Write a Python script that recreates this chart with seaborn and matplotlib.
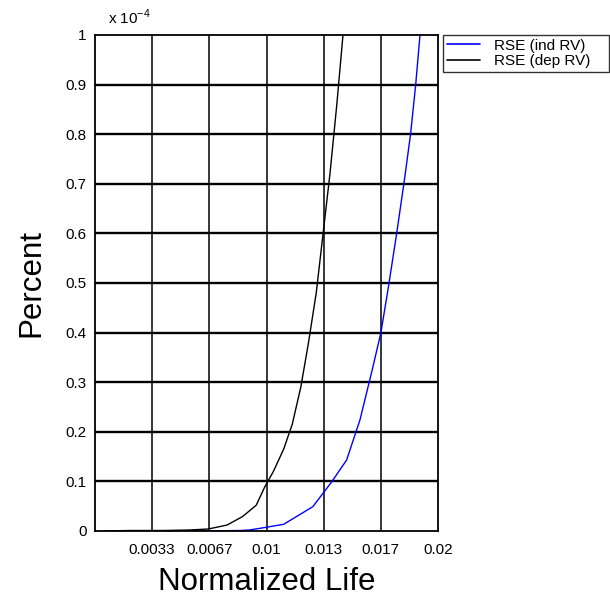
import matplotlib
matplotlib.use("Agg")
import matplotlib.pyplot as plt
import seaborn as sns
import pandas as pd

# data (y in units of 1e-4)
dep_x = [0.0005, 0.002, 0.004, 0.0055, 0.0066, 0.0077, 0.0086, 0.0094, 0.0099, 0.0104,
         0.0110, 0.0115, 0.0120, 0.01245, 0.0129, 0.0133, 0.0137, 0.0141, 0.01446, 0.0147]
dep_y = [0.0, 0.001, 0.001, 0.002, 0.004, 0.012, 0.029, 0.052, 0.089, 0.12,
         0.165, 0.215, 0.29, 0.38, 0.48, 0.60, 0.72, 0.86, 1.0, 1.08]
ind_x = [0.0005, 0.006, 0.0085, 0.0090, 0.0099, 0.0110, 0.0127, 0.0138, 0.01467, 0.01545,
         0.0162, 0.01667, 0.0171, 0.01759, 0.01805, 0.0184, 0.0187, 0.01895]
ind_y = [0.0, 0.0, 0.001, 0.002, 0.007, 0.0135, 0.049, 0.099, 0.143, 0.224,
         0.33, 0.40, 0.49, 0.60, 0.71, 0.80, 0.90, 1.0]
series_names = ["RSE (ind RV)", "RSE (dep RV)"]
series_colors = ["#0000ff", "#000000"]
x_ticks = [0.02 * k / 6 for k in range(1, 7)]
x_tick_labels = ["0.0033", "0.0067", "0.01", "0.013", "0.017", "0.02"]
y_ticks = [round(0.1 * k, 1) for k in range(11)]
y_tick_labels = ["0", "0.1", "0.2", "0.3", "0.4", "0.5", "0.6", "0.7", "0.8", "0.9", "1"]

df = pd.concat([
    pd.DataFrame({"x": ind_x, "y": ind_y, "series": series_names[0]}),
    pd.DataFrame({"x": dep_x, "y": dep_y, "series": series_names[1]}),
])

sns.set_style("white")
plt.rcParams["font.family"] = ["Liberation Sans", "DejaVu Sans"]
plt.rcParams["mathtext.fontset"] = "custom"
plt.rcParams["mathtext.rm"] = "Liberation Sans"
plt.rcParams["text.color"] = "black"
plt.rcParams["axes.labelcolor"] = "black"

fig = plt.figure(figsize=(6.10, 5.98), dpi=100)
ax = fig.add_axes([95 / 610, 1 - 531 / 598, (438 - 95) / 610, (531 - 35) / 598])

sns.lineplot(data=df, x="x", y="y", hue="series", hue_order=series_names,
             palette=series_colors, ax=ax, sort=False, estimator=None,
             linewidth=1.0, legend=True)

ax.set_xlim(0, 0.02)
ax.set_ylim(0, 1)
ax.set_xticks(x_ticks)
ax.set_xticklabels(x_tick_labels)
ax.set_yticks(y_ticks)
ax.set_yticklabels(y_tick_labels)

# grid
for yv in y_ticks[1:-1]:
    ax.axhline(yv, color="black", lw=1.7, zorder=0.5)
for xv in x_ticks[:-1]:
    ax.axvline(xv, color="black", lw=1.1, zorder=0.5)

ax.tick_params(axis="both", direction="in", length=4, width=1.0, labelsize=11,
               colors="black", pad=6)
ax.tick_params(axis="x", pad=9)
for s in ax.spines.values():
    s.set_visible(True)
    s.set_color("black")
    s.set_linewidth(1.3)

ax.set_xlabel("Normalized Life", fontsize=22.5, labelpad=7, color="black")
ax.set_ylabel("Percent", fontsize=22.5, labelpad=14, color="black")

fig.text(108 / 610, 1 - 24 / 598, r"x 10$^{-4}$", fontsize=11, ha="left",
         va="baseline", color="black")

handles, labels = ax.get_legend_handles_labels()
leg = ax.legend(handles, labels, loc="upper left",
                bbox_to_anchor=(443 / 610, 1 - 74 / 598, (609 - 443) / 610, 39 / 598),
                bbox_transform=fig.transFigure, mode="expand",
                fontsize=11, frameon=True, fancybox=False, borderaxespad=0,
                handlelength=2.2, handletextpad=0.9, labelspacing=0.1,
                borderpad=0.25)
leg.get_frame().set_edgecolor("black")
leg.get_frame().set_linewidth(1.0)
for line in leg.get_lines():
    line.set_linewidth(1.2)
for t in leg.get_texts():
    t.set_color("black")

fig.savefig("out.png", dpi=100)
